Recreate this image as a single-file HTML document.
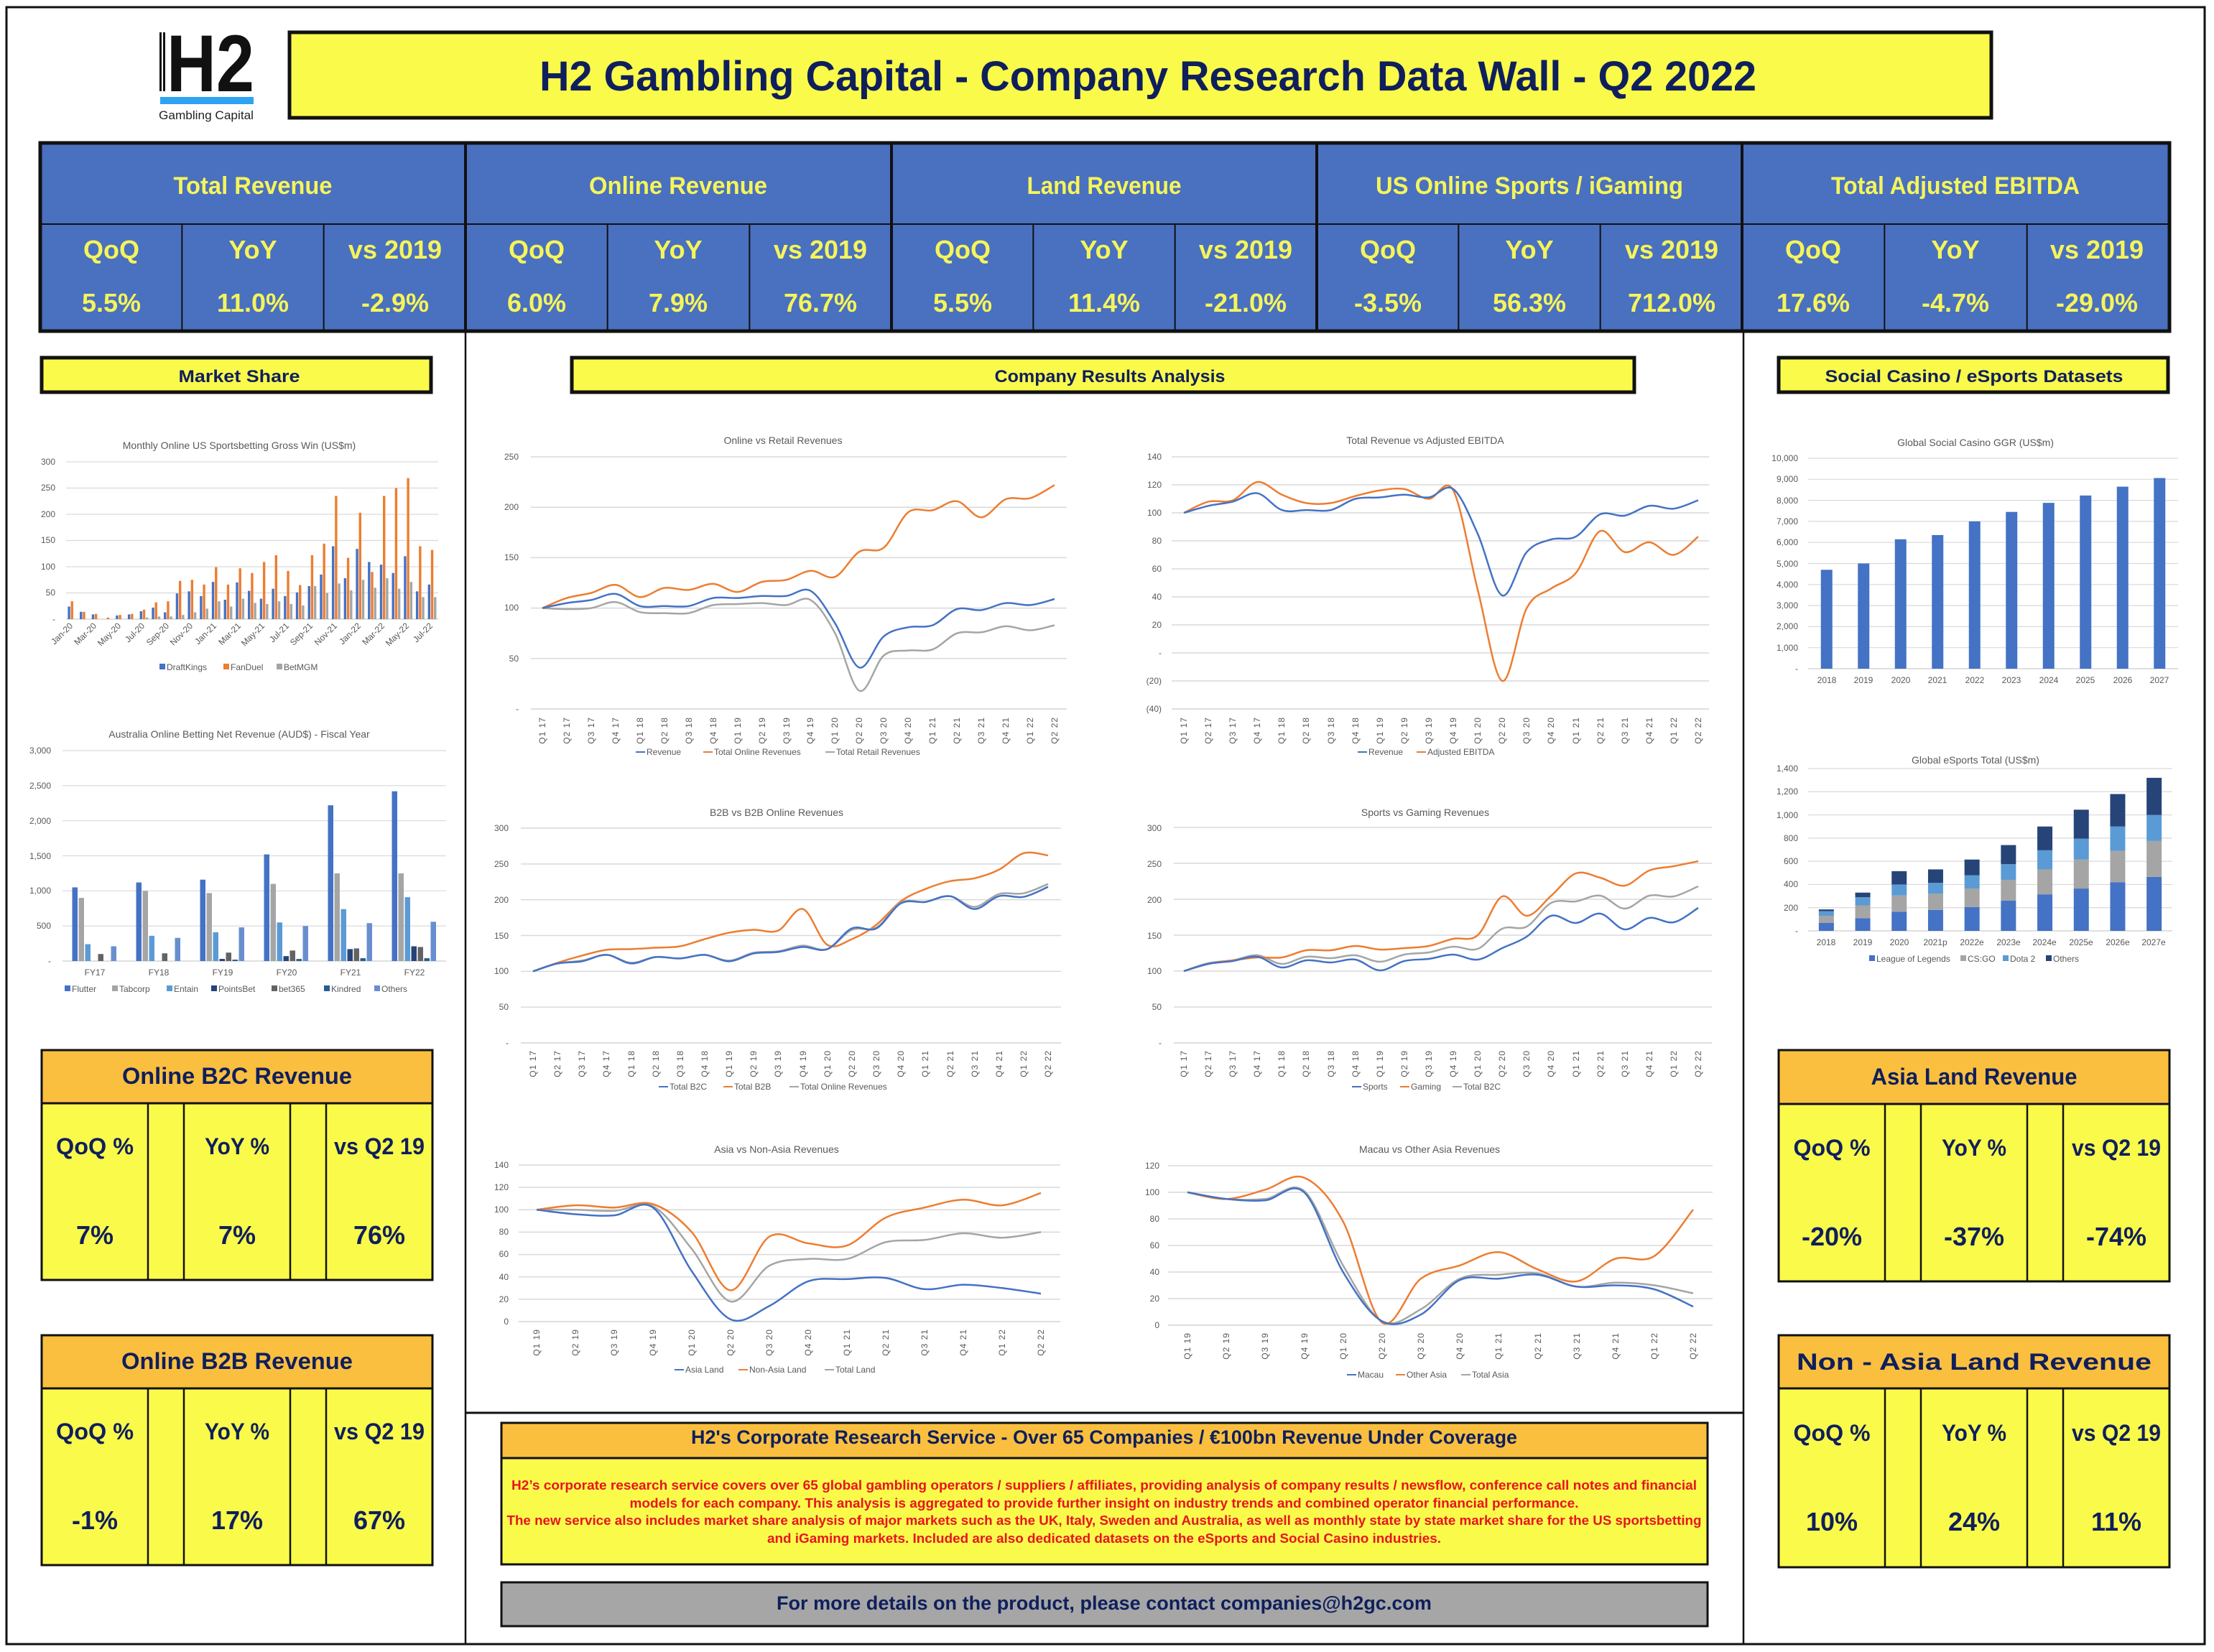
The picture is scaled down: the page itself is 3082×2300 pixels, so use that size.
<!DOCTYPE html>
<html><head><meta charset="utf-8"><style>
html,body{margin:0;padding:0;background:#fff}
svg{display:block}
.n{font-family:"Liberation Sans Narrow","Liberation Sans",sans-serif;font-weight:bold}
.b{font-family:"Liberation Sans",sans-serif;font-weight:bold}
.c{font-family:"Liberation Sans",sans-serif;fill:#595959;font-size:12px}
.t{font-family:"Liberation Sans",sans-serif;fill:#595959;font-size:14px}
</style></head><body>
<svg id="s" width="3082" height="2300" viewBox="0 0 3082 2300" xmlns="http://www.w3.org/2000/svg">
<rect x="0" y="0" width="3082" height="2300" fill="#fff"/>
<rect x="9" y="10" width="3060" height="2279" fill="none" stroke="#111" stroke-width="3"/>
<rect x="222" y="45" width="3" height="82" fill="#111"/><rect x="227" y="45" width="3" height="82" fill="#111"/>
<text x="232" y="127" class="b" font-size="112" fill="#111" textLength="122" lengthAdjust="spacingAndGlyphs">H2</text>
<rect x="223" y="135" width="130" height="10" fill="#2EA3F2"/>
<text x="287" y="166" class="n" font-size="17" fill="#222" text-anchor="middle" textLength="132" lengthAdjust="spacingAndGlyphs" style="font-weight:normal">Gambling Capital</text>
<rect x="403" y="45" width="2369" height="119" fill="#FAFA4B" stroke="#111" stroke-width="5"/>
<text x="1598" y="126" class="n" font-size="58" fill="#0F1F5C" text-anchor="middle" textLength="1694" lengthAdjust="spacingAndGlyphs">H2 Gambling Capital - Company Research Data Wall - Q2 2022</text>
<rect x="56" y="199" width="2964" height="262" fill="#4A70C0" stroke="#111" stroke-width="5"/>
<line x1="56" y1="312" x2="3020" y2="312" stroke="#111" stroke-width="2"/>
<g id="tbl"></g>
<g class="n" fill="#F5F55A" text-anchor="middle" font-size="34">
<text x="352" y="270" textLength="221" lengthAdjust="spacingAndGlyphs">Total Revenue</text>
<text x="944" y="270" textLength="248" lengthAdjust="spacingAndGlyphs">Online Revenue</text>
<text x="1537" y="270" textLength="215" lengthAdjust="spacingAndGlyphs">Land Revenue</text>
<text x="2129" y="270" textLength="428" lengthAdjust="spacingAndGlyphs">US Online Sports / iGaming</text>
<text x="2722" y="270" textLength="346" lengthAdjust="spacingAndGlyphs">Total Adjusted EBITDA</text>
</g>
<g class="n" fill="#F5F55A" text-anchor="middle" font-size="36">
<text x="155" y="360">QoQ</text><text x="352" y="360">YoY</text><text x="550" y="360">vs 2019</text>
<text x="747" y="360">QoQ</text><text x="944" y="360">YoY</text><text x="1142" y="360">vs 2019</text>
<text x="1340" y="360">QoQ</text><text x="1537" y="360">YoY</text><text x="1734" y="360">vs 2019</text>
<text x="1932" y="360">QoQ</text><text x="2129" y="360">YoY</text><text x="2327" y="360">vs 2019</text>
<text x="2524" y="360">QoQ</text><text x="2722" y="360">YoY</text><text x="2919" y="360">vs 2019</text>
<text x="155" y="434">5.5%</text><text x="352" y="434">11.0%</text><text x="550" y="434">-2.9%</text>
<text x="747" y="434">6.0%</text><text x="944" y="434">7.9%</text><text x="1142" y="434">76.7%</text>
<text x="1340" y="434">5.5%</text><text x="1537" y="434">11.4%</text><text x="1734" y="434">-21.0%</text>
<text x="1932" y="434">-3.5%</text><text x="2129" y="434">56.3%</text><text x="2327" y="434">712.0%</text>
<text x="2524" y="434">17.6%</text><text x="2722" y="434">-4.7%</text><text x="2919" y="434">-29.0%</text>
</g>
<line x1="648" y1="461" x2="648" y2="2289" stroke="#111" stroke-width="2.5"/>
<line x1="2427" y1="461" x2="2427" y2="2289" stroke="#111" stroke-width="2.5"/>
<line x1="648" y1="1967" x2="2427" y2="1967" stroke="#111" stroke-width="3"/>
<g fill="#FAFA4B" stroke="#111" stroke-width="5">
<rect x="58" y="498" width="542" height="48"/>
<rect x="796" y="498" width="1479" height="48"/>
<rect x="2476" y="498" width="542" height="48"/>
</g>
<g class="n" fill="#0F1F5C" text-anchor="middle" font-size="24">
<text x="333" y="532" textLength="169" lengthAdjust="spacingAndGlyphs">Market Share</text>
<text x="1545" y="532" textLength="321" lengthAdjust="spacingAndGlyphs">Company Results Analysis</text>
<text x="2748" y="532" textLength="415" lengthAdjust="spacingAndGlyphs">Social Casino / eSports Datasets</text>
</g>
<g id="kpi"></g>
<g class="b" fill="#0F1F5C" text-anchor="middle">
<text x="330" y="1509" font-size="32" textLength="320" lengthAdjust="spacingAndGlyphs">Online B2C Revenue</text>
<text x="330" y="1906" font-size="32" textLength="322" lengthAdjust="spacingAndGlyphs">Online B2B Revenue</text>
<text x="2748" y="1510" font-size="32" textLength="287" lengthAdjust="spacingAndGlyphs">Asia Land Revenue</text>
<text x="2748" y="1907" font-size="32" textLength="494" lengthAdjust="spacingAndGlyphs">Non - Asia Land Revenue</text>
<g font-size="32">
<text x="132" y="1607" textLength="108" lengthAdjust="spacingAndGlyphs">QoQ %</text>
<text x="330" y="1607" textLength="90" lengthAdjust="spacingAndGlyphs">YoY %</text>
<text x="528" y="1607" textLength="126" lengthAdjust="spacingAndGlyphs">vs Q2 19</text>
<text x="132" y="2004" textLength="108" lengthAdjust="spacingAndGlyphs">QoQ %</text>
<text x="330" y="2004" textLength="90" lengthAdjust="spacingAndGlyphs">YoY %</text>
<text x="528" y="2004" textLength="126" lengthAdjust="spacingAndGlyphs">vs Q2 19</text>
<text x="2550" y="1609" textLength="107" lengthAdjust="spacingAndGlyphs">QoQ %</text>
<text x="2748" y="1609" textLength="90" lengthAdjust="spacingAndGlyphs">YoY %</text>
<text x="2946" y="1609" textLength="124" lengthAdjust="spacingAndGlyphs">vs Q2 19</text>
<text x="2550" y="2006" textLength="107" lengthAdjust="spacingAndGlyphs">QoQ %</text>
<text x="2748" y="2006" textLength="90" lengthAdjust="spacingAndGlyphs">YoY %</text>
<text x="2946" y="2006" textLength="124" lengthAdjust="spacingAndGlyphs">vs Q2 19</text>
</g>
<g font-size="36">
<text x="132" y="1732">7%</text><text x="330" y="1732">7%</text><text x="528" y="1732">76%</text>
<text x="132" y="2129">-1%</text><text x="330" y="2129">17%</text><text x="528" y="2129">67%</text>
<text x="2550" y="1734">-20%</text><text x="2748" y="1734">-37%</text><text x="2946" y="1734">-74%</text>
<text x="2550" y="2131">10%</text><text x="2748" y="2131">24%</text><text x="2946" y="2131">11%</text>
</g>
</g>
<rect x="698" y="1981" width="1679" height="49" fill="#FBBF3F" stroke="#111" stroke-width="3"/>
<rect x="698" y="2030" width="1679" height="148" fill="#FAFA4B" stroke="#111" stroke-width="3"/>
<text x="1537" y="2010" class="n" font-size="27" fill="#0F1F5C" text-anchor="middle" textLength="1150" lengthAdjust="spacingAndGlyphs">H2's Corporate Research Service - Over 65 Companies / €100bn Revenue Under Coverage</text>
<g class="n" font-size="18" fill="#E8141E" text-anchor="middle">
<text x="1537" y="2074" textLength="1650" lengthAdjust="spacingAndGlyphs">H2’s corporate research service covers over 65 global gambling operators / suppliers / affiliates, providing analysis of company results / newsflow, conference call notes and financial</text>
<text x="1537" y="2099" textLength="1321" lengthAdjust="spacingAndGlyphs">models for each company. This analysis is aggregated to provide further insight on industry trends and combined operator financial performance.</text>
<text x="1537" y="2123" textLength="1663" lengthAdjust="spacingAndGlyphs">The new service also includes market share analysis of major markets such as the UK, Italy, Sweden and Australia, as well as monthly state by state market share for the US sportsbetting</text>
<text x="1537" y="2148" textLength="938" lengthAdjust="spacingAndGlyphs">and iGaming markets. Included are also dedicated datasets on the eSports and Social Casino industries.</text>
</g>
<rect x="698" y="2203" width="1679" height="61" fill="#A6A6A6" stroke="#111" stroke-width="3"/>
<text x="1537" y="2241" class="n" font-size="27" fill="#0F1F5C" text-anchor="middle" textLength="912" lengthAdjust="spacingAndGlyphs">For more details on the product, please contact companies@h2gc.com</text>

<g class="t" text-anchor="middle">
<text x="1090" y="618">Online vs Retail Revenues</text>
<text x="1984" y="618">Total Revenue vs Adjusted EBITDA</text>
<text x="1081" y="1136">B2B vs B2B Online Revenues</text>
<text x="1984" y="1136">Sports vs Gaming Revenues</text>
<text x="1081" y="1605">Asia vs Non-Asia Revenues</text>
<text x="1990" y="1605">Macau vs Other Asia Revenues</text>
<text x="333" y="625">Monthly Online US Sportsbetting Gross Win (US$m)</text>
<text x="333" y="1027">Australia Online Betting Net Revenue (AUD$) - Fiscal Year</text>
<text x="2750" y="621">Global Social Casino GGR (US$m)</text>
<text x="2750" y="1063">Global eSports Total (US$m)</text>
</g>
<g id="grid"></g>
<g id="ser"></g>
<g class="c" text-anchor="end">
<text x="722" y="640">250</text><text x="722" y="710">200</text><text x="722" y="780">150</text><text x="722" y="850">100</text><text x="722" y="921">50</text><text x="722" y="991">-</text>
<text x="1617" y="640">140</text><text x="1617" y="679">120</text><text x="1617" y="718">100</text><text x="1617" y="757">80</text><text x="1617" y="796">60</text><text x="1617" y="835">40</text><text x="1617" y="874">20</text><text x="1617" y="913">-</text><text x="1617" y="952">(20)</text><text x="1617" y="991">(40)</text>
<text x="708" y="1157">300</text><text x="708" y="1207">250</text><text x="708" y="1257">200</text><text x="708" y="1307">150</text><text x="708" y="1356">100</text><text x="708" y="1406">50</text><text x="708" y="1456">-</text>
<text x="1617" y="1157">300</text><text x="1617" y="1207">250</text><text x="1617" y="1257">200</text><text x="1617" y="1307">150</text><text x="1617" y="1356">100</text><text x="1617" y="1406">50</text><text x="1617" y="1456">-</text>
<text x="708" y="1626">140</text><text x="708" y="1657">120</text><text x="708" y="1688">100</text><text x="708" y="1719">80</text><text x="708" y="1750">60</text><text x="708" y="1782">40</text><text x="708" y="1813">20</text><text x="708" y="1844">0</text>
<text x="1614" y="1627">120</text><text x="1614" y="1664">100</text><text x="1614" y="1701">80</text><text x="1614" y="1738">60</text><text x="1614" y="1775">40</text><text x="1614" y="1812">20</text><text x="1614" y="1849">0</text>
<text x="77" y="647">300</text><text x="77" y="683">250</text><text x="77" y="720">200</text><text x="77" y="756">150</text><text x="77" y="793">100</text><text x="77" y="829">50</text><text x="77" y="866">-</text>
<text x="71" y="1049">3,000</text><text x="71" y="1098">2,500</text><text x="71" y="1147">2,000</text><text x="71" y="1196">1,500</text><text x="71" y="1244">1,000</text><text x="71" y="1293">500</text><text x="71" y="1342">-</text>
<text x="2503" y="642">10,000</text><text x="2503" y="671">9,000</text><text x="2503" y="701">8,000</text><text x="2503" y="730">7,000</text><text x="2503" y="759">6,000</text><text x="2503" y="789">5,000</text><text x="2503" y="818">4,000</text><text x="2503" y="847">3,000</text><text x="2503" y="876">2,000</text><text x="2503" y="906">1,000</text><text x="2503" y="935">-</text>
<text x="2503" y="1074">1,400</text><text x="2503" y="1106">1,200</text><text x="2503" y="1139">1,000</text><text x="2503" y="1171">800</text><text x="2503" y="1203">600</text><text x="2503" y="1235">400</text><text x="2503" y="1268">200</text><text x="2503" y="1300">-</text>
</g>
<!-- quarter x labels -->
<g class="c" font-size="11" text-anchor="end" letter-spacing="1">
<text transform="translate(759,998) rotate(-90)">Q1 17</text><text transform="translate(793,998) rotate(-90)">Q2 17</text><text transform="translate(827,998) rotate(-90)">Q3 17</text><text transform="translate(861,998) rotate(-90)">Q4 17</text><text transform="translate(895,998) rotate(-90)">Q1 18</text><text transform="translate(929,998) rotate(-90)">Q2 18</text><text transform="translate(963,998) rotate(-90)">Q3 18</text><text transform="translate(997,998) rotate(-90)">Q4 18</text><text transform="translate(1031,998) rotate(-90)">Q1 19</text><text transform="translate(1065,998) rotate(-90)">Q2 19</text><text transform="translate(1099,998) rotate(-90)">Q3 19</text><text transform="translate(1132,998) rotate(-90)">Q4 19</text><text transform="translate(1166,998) rotate(-90)">Q1 20</text><text transform="translate(1200,998) rotate(-90)">Q2 20</text><text transform="translate(1234,998) rotate(-90)">Q3 20</text><text transform="translate(1268,998) rotate(-90)">Q4 20</text><text transform="translate(1302,998) rotate(-90)">Q1 21</text><text transform="translate(1336,998) rotate(-90)">Q2 21</text><text transform="translate(1370,998) rotate(-90)">Q3 21</text><text transform="translate(1404,998) rotate(-90)">Q4 21</text><text transform="translate(1438,998) rotate(-90)">Q1 22</text><text transform="translate(1472,998) rotate(-90)">Q2 22</text>
<text transform="translate(1652,998) rotate(-90)">Q1 17</text><text transform="translate(1686,998) rotate(-90)">Q2 17</text><text transform="translate(1720,998) rotate(-90)">Q3 17</text><text transform="translate(1754,998) rotate(-90)">Q4 17</text><text transform="translate(1788,998) rotate(-90)">Q1 18</text><text transform="translate(1822,998) rotate(-90)">Q2 18</text><text transform="translate(1857,998) rotate(-90)">Q3 18</text><text transform="translate(1891,998) rotate(-90)">Q4 18</text><text transform="translate(1925,998) rotate(-90)">Q1 19</text><text transform="translate(1959,998) rotate(-90)">Q2 19</text><text transform="translate(1993,998) rotate(-90)">Q3 19</text><text transform="translate(2027,998) rotate(-90)">Q4 19</text><text transform="translate(2061,998) rotate(-90)">Q1 20</text><text transform="translate(2095,998) rotate(-90)">Q2 20</text><text transform="translate(2129,998) rotate(-90)">Q3 20</text><text transform="translate(2163,998) rotate(-90)">Q4 20</text><text transform="translate(2198,998) rotate(-90)">Q1 21</text><text transform="translate(2232,998) rotate(-90)">Q2 21</text><text transform="translate(2266,998) rotate(-90)">Q3 21</text><text transform="translate(2300,998) rotate(-90)">Q4 21</text><text transform="translate(2334,998) rotate(-90)">Q1 22</text><text transform="translate(2368,998) rotate(-90)">Q2 22</text>
<text transform="translate(746,1462) rotate(-90)">Q1 17</text><text transform="translate(780,1462) rotate(-90)">Q2 17</text><text transform="translate(814,1462) rotate(-90)">Q3 17</text><text transform="translate(848,1462) rotate(-90)">Q4 17</text><text transform="translate(883,1462) rotate(-90)">Q1 18</text><text transform="translate(917,1462) rotate(-90)">Q2 18</text><text transform="translate(951,1462) rotate(-90)">Q3 18</text><text transform="translate(985,1462) rotate(-90)">Q4 18</text><text transform="translate(1019,1462) rotate(-90)">Q1 19</text><text transform="translate(1053,1462) rotate(-90)">Q2 19</text><text transform="translate(1087,1462) rotate(-90)">Q3 19</text><text transform="translate(1122,1462) rotate(-90)">Q4 19</text><text transform="translate(1156,1462) rotate(-90)">Q1 20</text><text transform="translate(1190,1462) rotate(-90)">Q2 20</text><text transform="translate(1224,1462) rotate(-90)">Q3 20</text><text transform="translate(1258,1462) rotate(-90)">Q4 20</text><text transform="translate(1292,1462) rotate(-90)">Q1 21</text><text transform="translate(1327,1462) rotate(-90)">Q2 21</text><text transform="translate(1361,1462) rotate(-90)">Q3 21</text><text transform="translate(1395,1462) rotate(-90)">Q4 21</text><text transform="translate(1429,1462) rotate(-90)">Q1 22</text><text transform="translate(1463,1462) rotate(-90)">Q2 22</text>
<text transform="translate(1652,1462) rotate(-90)">Q1 17</text><text transform="translate(1686,1462) rotate(-90)">Q2 17</text><text transform="translate(1720,1462) rotate(-90)">Q3 17</text><text transform="translate(1754,1462) rotate(-90)">Q4 17</text><text transform="translate(1788,1462) rotate(-90)">Q1 18</text><text transform="translate(1822,1462) rotate(-90)">Q2 18</text><text transform="translate(1857,1462) rotate(-90)">Q3 18</text><text transform="translate(1891,1462) rotate(-90)">Q4 18</text><text transform="translate(1925,1462) rotate(-90)">Q1 19</text><text transform="translate(1959,1462) rotate(-90)">Q2 19</text><text transform="translate(1993,1462) rotate(-90)">Q3 19</text><text transform="translate(2027,1462) rotate(-90)">Q4 19</text><text transform="translate(2061,1462) rotate(-90)">Q1 20</text><text transform="translate(2095,1462) rotate(-90)">Q2 20</text><text transform="translate(2129,1462) rotate(-90)">Q3 20</text><text transform="translate(2163,1462) rotate(-90)">Q4 20</text><text transform="translate(2198,1462) rotate(-90)">Q1 21</text><text transform="translate(2232,1462) rotate(-90)">Q2 21</text><text transform="translate(2266,1462) rotate(-90)">Q3 21</text><text transform="translate(2300,1462) rotate(-90)">Q4 21</text><text transform="translate(2334,1462) rotate(-90)">Q1 22</text><text transform="translate(2368,1462) rotate(-90)">Q2 22</text>
<text transform="translate(751,1850) rotate(-90)">Q1 19</text><text transform="translate(805,1850) rotate(-90)">Q2 19</text><text transform="translate(859,1850) rotate(-90)">Q3 19</text><text transform="translate(913,1850) rotate(-90)">Q4 19</text><text transform="translate(967,1850) rotate(-90)">Q1 20</text><text transform="translate(1021,1850) rotate(-90)">Q2 20</text><text transform="translate(1075,1850) rotate(-90)">Q3 20</text><text transform="translate(1129,1850) rotate(-90)">Q4 20</text><text transform="translate(1183,1850) rotate(-90)">Q1 21</text><text transform="translate(1237,1850) rotate(-90)">Q2 21</text><text transform="translate(1291,1850) rotate(-90)">Q3 21</text><text transform="translate(1345,1850) rotate(-90)">Q4 21</text><text transform="translate(1399,1850) rotate(-90)">Q1 22</text><text transform="translate(1453,1850) rotate(-90)">Q2 22</text>
<text transform="translate(1657,1855) rotate(-90)">Q1 19</text><text transform="translate(1711,1855) rotate(-90)">Q2 19</text><text transform="translate(1765,1855) rotate(-90)">Q3 19</text><text transform="translate(1820,1855) rotate(-90)">Q4 19</text><text transform="translate(1874,1855) rotate(-90)">Q1 20</text><text transform="translate(1928,1855) rotate(-90)">Q2 20</text><text transform="translate(1982,1855) rotate(-90)">Q3 20</text><text transform="translate(2036,1855) rotate(-90)">Q4 20</text><text transform="translate(2090,1855) rotate(-90)">Q1 21</text><text transform="translate(2145,1855) rotate(-90)">Q2 21</text><text transform="translate(2199,1855) rotate(-90)">Q3 21</text><text transform="translate(2253,1855) rotate(-90)">Q4 21</text><text transform="translate(2307,1855) rotate(-90)">Q1 22</text><text transform="translate(2361,1855) rotate(-90)">Q2 22</text>
</g>
<g class="c" text-anchor="middle">
<text x="132" y="1358">FY17</text><text x="221" y="1358">FY18</text><text x="310" y="1358">FY19</text><text x="399" y="1358">FY20</text><text x="488" y="1358">FY21</text><text x="577" y="1358">FY22</text>
<text x="2543" y="951">2018</text><text x="2594" y="951">2019</text><text x="2646" y="951">2020</text><text x="2697" y="951">2021</text><text x="2749" y="951">2022</text><text x="2800" y="951">2023</text><text x="2852" y="951">2024</text><text x="2903" y="951">2025</text><text x="2955" y="951">2026</text><text x="3006" y="951">2027</text>
<text x="2542" y="1316">2018</text><text x="2593" y="1316">2019</text><text x="2644" y="1316">2020</text><text x="2694" y="1316">2021p</text><text x="2745" y="1316">2022e</text><text x="2796" y="1316">2023e</text><text x="2846" y="1316">2024e</text><text x="2897" y="1316">2025e</text><text x="2948" y="1316">2026e</text><text x="2998" y="1316">2027e</text>
</g>
<g class="c" font-size="11" text-anchor="end">
<text transform="translate(102,872) rotate(-45)">Jan-20</text><text transform="translate(135,872) rotate(-45)">Mar-20</text><text transform="translate(169,872) rotate(-45)">May-20</text><text transform="translate(202,872) rotate(-45)">Jul-20</text><text transform="translate(236,872) rotate(-45)">Sep-20</text><text transform="translate(269,872) rotate(-45)">Nov-20</text><text transform="translate(302,872) rotate(-45)">Jan-21</text><text transform="translate(336,872) rotate(-45)">Mar-21</text><text transform="translate(369,872) rotate(-45)">May-21</text><text transform="translate(403,872) rotate(-45)">Jul-21</text><text transform="translate(436,872) rotate(-45)">Sep-21</text><text transform="translate(470,872) rotate(-45)">Nov-21</text><text transform="translate(503,872) rotate(-45)">Jan-22</text><text transform="translate(536,872) rotate(-45)">Mar-22</text><text transform="translate(570,872) rotate(-45)">May-22</text><text transform="translate(603,872) rotate(-45)">Jul-22</text>
</g>
<g id="leg"></g>
<g class="c" font-size="11">
<text x="900" y="1051">Revenue</text><text x="994" y="1051">Total Online Revenues</text><text x="1164" y="1051">Total Retail Revenues</text>
<text x="1905" y="1051">Revenue</text><text x="1987" y="1051">Adjusted EBITDA</text>
<text x="932" y="1517">Total B2C</text><text x="1022" y="1517">Total B2B</text><text x="1114" y="1517">Total Online Revenues</text>
<text x="1897" y="1517">Sports</text><text x="1964" y="1517">Gaming</text><text x="2037" y="1517">Total B2C</text>
<text x="954" y="1911">Asia Land</text><text x="1043" y="1911">Non-Asia Land</text><text x="1163" y="1911">Total Land</text>
<text x="1890" y="1918">Macau</text><text x="1958" y="1918">Other Asia</text><text x="2049" y="1918">Total Asia</text>
<text x="232" y="933">DraftKings</text><text x="321" y="933">FanDuel</text><text x="395" y="933">BetMGM</text>
<text x="100" y="1381">Flutter</text><text x="166" y="1381">Tabcorp</text><text x="242" y="1381">Entain</text><text x="304" y="1381">PointsBet</text><text x="388" y="1381">bet365</text><text x="461" y="1381">Kindred</text><text x="531" y="1381">Others</text>
<text x="2612" y="1339">League of Legends</text><text x="2739" y="1339">CS:GO</text><text x="2798" y="1339">Dota 2</text><text x="2858" y="1339">Others</text>
</g>
</svg>
<script>
(function(){
var NS="http://www.w3.org/2000/svg";
function el(p,t,a){var e=document.createElementNS(NS,t);for(var k in a)e.setAttribute(k,a[k]);p.appendChild(e);return e;}
var g=document.getElementById('grid'),ser=document.getElementById('ser'),tbl=document.getElementById('tbl'),kpi=document.getElementById('kpi'),leg=document.getElementById('leg');
var B='#4472C4',O='#ED7D31',G='#A5A5A5';
var gb=[56,648,1241,1833,2425,3020];
for(var i=1;i<5;i++)el(tbl,'line',{x1:gb[i],y1:199,x2:gb[i],y2:461,stroke:'#111','stroke-width':4});
for(var i=0;i<5;i++){var w=(gb[i+1]-gb[i])/3;for(var j=1;j<3;j++)el(tbl,'line',{x1:gb[i]+w*j,y1:312,x2:gb[i]+w*j,y2:461,stroke:'#111','stroke-width':2});}
function box(x,y,hb,bot){
 el(kpi,'rect',{x:x,y:y,width:544,height:hb-y,fill:'#FBBF3F',stroke:'#111','stroke-width':3});
 el(kpi,'rect',{x:x,y:hb,width:544,height:bot-hb,fill:'#FAFA4B',stroke:'#111','stroke-width':3});
 [148,198,346,396].forEach(function(d){el(kpi,'line',{x1:x+d,y1:hb,x2:x+d,y2:bot,stroke:'#111','stroke-width':2.5});});
}
box(58,1462,1536,1782);box(58,1859,1933,2179);box(2476,1462,1537,1784);box(2476,1859,1933,2182);
function smooth(P){var d='M'+P[0][0].toFixed(1)+' '+P[0][1].toFixed(1);
 for(var i=0;i<P.length-1;i++){var p0=P[i-1]||P[i],p1=P[i],p2=P[i+1],p3=P[i+2]||p2;
  d+=' C'+(p1[0]+(p2[0]-p0[0])/6).toFixed(1)+' '+(p1[1]+(p2[1]-p0[1])/6).toFixed(1)+' '+(p2[0]-(p3[0]-p1[0])/6).toFixed(1)+' '+(p2[1]-(p3[1]-p1[1])/6).toFixed(1)+' '+p2[0].toFixed(1)+' '+p2[1].toFixed(1);}
 return d;}
function lc(ax0,ax1,yt,yb,vmin,vmax,step,dx0,dx1,series){
 for(var v=vmin;v<=vmax+0.01;v+=step){var y=yb-(v-vmin)/(vmax-vmin)*(yb-yt);el(g,'line',{x1:ax0,y1:y,x2:ax1,y2:y,stroke:'#D9D9D9','stroke-width':1.5});}
 series.forEach(function(s){var n=s[1].length,P=s[1].map(function(v,i){return [dx0+(dx1-dx0)*i/(n-1),yb-(v-vmin)/(vmax-vmin)*(yb-yt)];});
  el(ser,'path',{d:smooth(P),fill:'none',stroke:s[0],'stroke-width':2.5});});
}
lc(739,1485,636,987,0,250,50,755,1468,[
[G,[100,99,100,106,96,95,95,103,104,105,103,108,75,18,53,58,59,75,76,82,78,83]],
[O,[100,110,115,123,111,120,118,124,116,126,128,137,131,156,160,195,197,206,190,208,209,222]],
[B,[100,105,108,114,102,102,102,110,110,112,112,117,85,41,72,81,83,99,98,105,103,109]]]);
lc(1631,2379,636,987,-40,140,20,1648,2364,[
[O,[100,108,109,122,113,107,107,112,116,117,110,116,45,-20,32,46,57,87,72,79,70,83]],
[B,[100,105,108,114,102,102,102,110,111,113,111,117,85,41,72,81,83,99,98,105,103,109]]]);
lc(725,1477,1153,1452,0,300,50,742,1459,[
[O,[100,112,122,130,131,133,135,145,154,158,157,187,137,145,165,198,215,226,230,242,265,262]],
[G,[100,111,115,123,112,120,118,123,115,126,128,136,131,158,161,196,197,205,190,208,209,222]],
[B,[100,111,114,123,111,120,118,123,114,125,127,134,131,160,160,195,197,205,187,205,204,218]]]);
lc(1634,2383,1152,1452,0,300,50,1648,2364,[
[G,[100,111,115,122,110,120,118,122,113,123,126,134,131,159,162,195,197,205,187,205,204,218]],
[O,[100,110,115,119,119,129,129,135,130,132,135,145,150,204,177,205,236,230,219,240,246,253]],
[B,[100,110,114,120,105,115,112,116,101,114,117,123,116,132,148,177,167,180,158,174,168,188]]]);
lc(722,1476,1622,1840,0,140,20,747,1449,[
[G,[100,100,99,103,65,18,50,56,56,71,73,79,75,80]],
[O,[100,104,102,105,80,28,76,70,68,93,102,109,104,115]],
[B,[100,96,95,102,45,2,14,36,38,39,29,33,30,25]]]);
lc(1626,2384,1623,1845,0,120,20,1653,2357,[
[G,[100,95,95,101,45,3,12,35,38,39,29,32,30,24]],
[O,[100,95,102,111,78,2,35,45,55,42,33,50,52,87]],
[B,[100,95,94,100,40,3,8,34,35,38,29,30,27,14]]]);
(function(){var yb=862,k=219/300;for(var v=0;v<=300;v+=50)el(g,'line',{x1:92,y1:yb-v*k,x2:610,y2:yb-v*k,stroke:'#D9D9D9','stroke-width':1.2});
var D=[[24,34,0],[14,14,0],[9,10,0],[0,3,0],[7,8,0],[9,10,0],[15,18,3],[22,32,5],[13,34,5],[49,73,8],[53,75,13],[44,66,20],[71,99,34],[37,66,24],[70,97,39],[54,88,31],[39,109,29],[58,122,34],[44,92,29],[51,65,26],[63,122,63],[85,144,50],[139,235,68],[78,117,55],[134,203,75],[109,90,60],[104,235,78],[88,250,58],[120,269,71],[53,139,42],[66,132,42]];
var gw=518/31;D.forEach(function(r,i){var c=92+gw*(i+0.5);[B,O,G].forEach(function(col,j){if(r[j]>0)el(ser,'rect',{x:c-6+j*4.2,y:yb-r[j]*k,width:3.4,height:r[j]*k,fill:col});});});})();
(function(){var yb=1338,k=293/3000;var cols=['#4472C4','#A5A5A5','#5B9BD5','#264478','#636363','#255E91','#698ED0'];
var D=[[1050,900,240,0,100,0,210],[1120,1000,360,0,110,0,330],[1160,970,410,30,120,20,480],[1520,1100,550,70,150,30,500],[2220,1250,740,170,180,40,540],[2420,1250,910,210,200,40,560]];
for(var v=0;v<=3000;v+=500)el(g,'line',{x1:87,y1:yb-v*k,x2:621,y2:yb-v*k,stroke:'#D9D9D9','stroke-width':1.2});
D.forEach(function(r,i){var c=87+89*(i+0.5);r.forEach(function(v,j){if(v>0)el(ser,'rect',{x:c-31+j*9,y:yb-v*k,width:7.5,height:v*k,fill:cols[j]});});});})();
(function(){var yb=931,k=293/10000;for(var v=0;v<=10000;v+=1000)el(g,'line',{x1:2517,y1:yb-v*k,x2:3032,y2:yb-v*k,stroke:'#D9D9D9','stroke-width':1.2});
[4700,5000,6150,6350,7000,7450,7880,8230,8650,9060].forEach(function(v,i){var c=2517+51.5*(i+0.5);el(ser,'rect',{x:c-8,y:yb-v*k,width:16,height:v*k,fill:'#4472C4'});});})();
(function(){var yb=1296,k=226/1400;for(var v=0;v<=1400;v+=200)el(g,'line',{x1:2517,y1:yb-v*k,x2:3024,y2:yb-v*k,stroke:'#D9D9D9','stroke-width':1.2});
var cols=['#4472C4','#A5A5A5','#5B9BD5','#264478'];
var D=[[70,60,40,15],[110,110,70,40],[165,140,95,115],[180,140,95,115],[205,160,115,135],[260,180,135,165],[315,215,165,205],[365,250,180,250],[420,270,210,280],[465,310,225,320]];
D.forEach(function(r,i){var c=2517+50.7*(i+0.5),acc=0;r.forEach(function(v,j){el(ser,'rect',{x:c-10.5,y:yb-(acc+v)*k,width:21,height:v*k,fill:cols[j]});acc+=v;});});})();
[[739,1485,987],[1631,2379,987],[725,1477,1452],[1634,2383,1452],[722,1476,1840],[1626,2384,1845],[92,610,862],[87,621,1338],[2517,3032,931],[2517,3024,1296]].forEach(function(a){el(g,'line',{x1:a[0],y1:a[2],x2:a[1],y2:a[2],stroke:'#D9D9D9','stroke-width':1.5});});
function lm(x,y,c){el(leg,'line',{x1:x,y1:y,x2:x+13,y2:y,stroke:c,'stroke-width':2});}
function sm(x,y,c){el(leg,'rect',{x:x,y:y-8,width:8,height:8,fill:c});}
lm(885,1047,B);lm(979,1047,O);lm(1149,1047,G);lm(1890,1047,B);lm(1972,1047,O);
lm(917,1513,B);lm(1007,1513,O);lm(1099,1513,G);lm(1882,1513,B);lm(1949,1513,O);lm(2022,1513,G);
lm(939,1907,B);lm(1028,1907,O);lm(1148,1907,G);lm(1875,1914,B);lm(1943,1914,O);lm(2034,1914,G);
sm(222,932,B);sm(311,932,O);sm(385,932,G);
['#4472C4','#A5A5A5','#5B9BD5','#264478','#636363','#255E91','#698ED0'].forEach(function(c,i){sm([90,156,232,294,378,451,521][i],1380,c);});
sm(2602,1338,'#4472C4');sm(2729,1338,'#A5A5A5');sm(2788,1338,'#5B9BD5');sm(2848,1338,'#264478');
})();
</script>
</body></html>
